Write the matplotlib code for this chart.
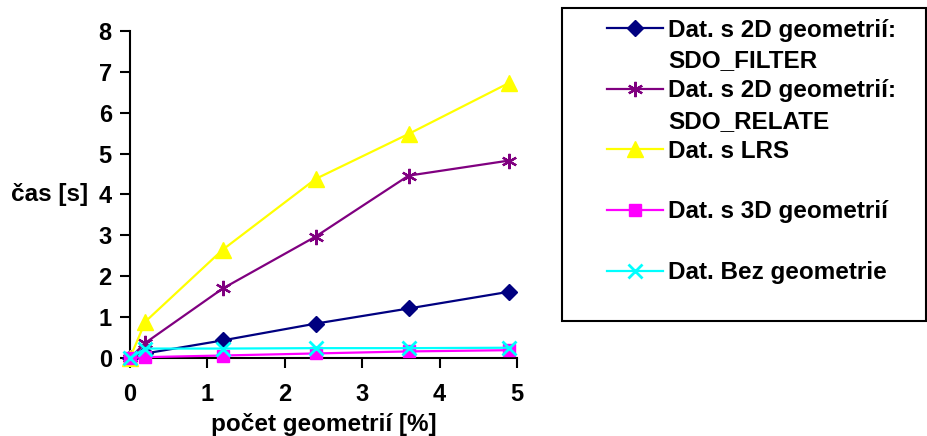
import matplotlib.pyplot as plt
from matplotlib.lines import Line2D
from matplotlib.patches import Rectangle

# ---------- Data ----------
x = [0, 0.2, 1.2, 2.4, 3.6, 4.9]
sdo_filter = [0, 0.11, 0.43, 0.84, 1.21, 1.62]
sdo_relate = [0, 0.37, 1.70, 2.97, 4.46, 4.83]
lrs = [0, 0.89, 2.65, 4.38, 5.48, 6.73]
geom_3d = [0, 0.02, 0.06, 0.11, 0.16, 0.19]
bez_geom = [0, 0.23, 0.23, 0.24, 0.24, 0.25]

# each label is (first line, second line); the marker sits on the first line
labels = [
    ("Dat. s 2D geometrií:", "SDO_FILTER"),
    ("Dat. s 2D geometrií:", "SDO_RELATE"),
    ("Dat. s LRS", " "),
    ("Dat. s 3D geometrií", " "),
    ("Dat. Bez geometrie", " "),
]

plt.rcParams['font.family'] = ['Liberation Sans', 'DejaVu Sans']
plt.rcParams['font.weight'] = 'bold'

fig = plt.figure(figsize=(9.28, 4.36), dpi=100)
ax = fig.add_axes([0.140, 0.179, 0.417, 0.750])

lw = 1.6
series = [
    (sdo_filter, dict(color="#000080", marker="D", markersize=8.5)),
    (sdo_relate, dict(color="#800080", marker=(6, 2, 0), markersize=11, markeredgewidth=1.6)),
    (lrs, dict(color="#FFFF00", marker="^", markersize=12)),
    (geom_3d, dict(color="#FF00FF", marker="s", markersize=8)),
    (bez_geom, dict(color="#00FFFF", marker="x", markersize=10, markeredgewidth=2)),
]
handles = []
for vals, style in series:
    h, = ax.plot(x, vals, linewidth=lw, clip_on=False, zorder=3, **style)
    handles.append(h)

ax.set_xlim(0, 5)
ax.set_ylim(0, 8)
ax.set_xticks(range(0, 6))
ax.set_yticks(range(0, 9))
ax.spines['top'].set_visible(False)
ax.spines['right'].set_visible(False)
for s in ('left', 'bottom'):
    ax.spines[s].set_linewidth(1.5)
ax.tick_params(direction='out', length=7, width=1.5, labelsize=17)
ax.tick_params(axis='x', pad=11)
ax.tick_params(axis='y', pad=6)

ax.set_xlabel("počet geometrií [%]", fontsize=17.5, fontweight='bold', labelpad=5)
ax.set_ylabel("čas [s]", fontsize=17.5, fontweight='bold', rotation=0, ha='right', va='center')
ax.yaxis.set_label_coords(-0.109, 0.5)

# ---------- Legend ----------
blank = Line2D([], [], linestyle='none')
leg_handles, leg_labels = [], []
for h, (first, second) in zip(handles, labels):
    leg_handles += [h, blank]
    leg_labels += [first, second]

fig.patches.append(Rectangle((0.6056, 0.264), 0.392, 0.718, transform=fig.transFigure,
                             fill=False, edgecolor="black", linewidth=1.5))
leg = fig.legend(leg_handles, leg_labels, loc='upper left', bbox_to_anchor=(0.654, 0.957),
                 frameon=False, fontsize=17.5, handlelength=2.3, handletextpad=0.22,
                 labelspacing=0.30, borderaxespad=0, borderpad=0)

plt.savefig("out.png")
